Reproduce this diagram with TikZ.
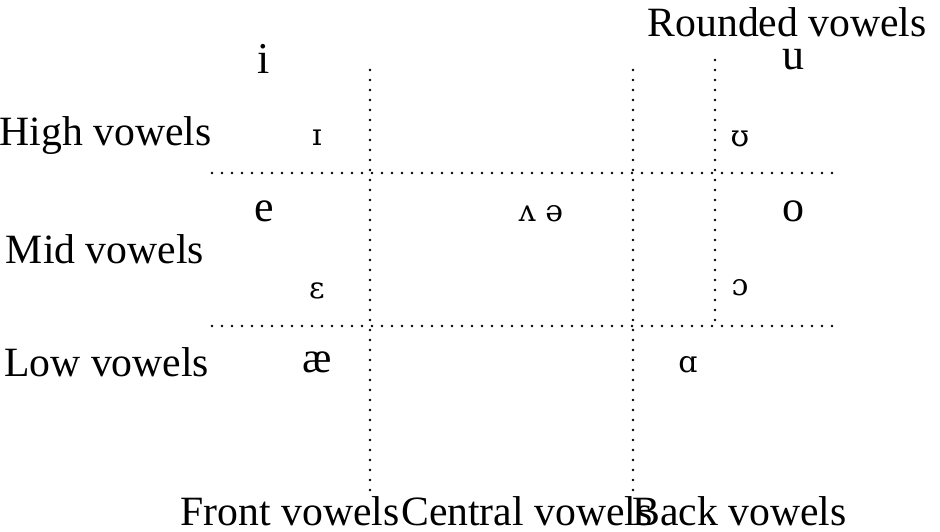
\documentclass[tikz,border=0pt]{standalone}
\usepackage{fontspec}
\setmainfont{Liberation Serif}
\newfontfamily\ipafont{DejaVu Serif}
\begin{document}
\begin{tikzpicture}[x=1pt,y=-1pt,
  lbl/.style={inner sep=0pt,font=\fontsize{41.7}{44}\selectfont},
  vow/.style={inner sep=0pt,anchor=base,font=\fontsize{44}{48}\selectfont},
  ipa/.style={inner sep=0pt,anchor=base,font=\ipafont\fontsize{30}{34}\selectfont},
  hgrid/.style={line width=2.8pt,line cap=round,dash pattern=on 0pt off 10pt},
  vgrid/.style={line width=2.8pt,line cap=round,dash pattern=on 0pt off 10pt}]
\useasboundingbox (0,0) rectangle (940,532);
% grid coordinates
\coordinate (v1t) at (370,70);  \coordinate (v1b) at (370,500);
\coordinate (v2t) at (633,70);  \coordinate (v2b) at (633,500);
\coordinate (v3t) at (715,60);  \coordinate (v3b) at (715,326);
\coordinate (h1l) at (212,173); \coordinate (h1r) at (838,173);
\coordinate (h2l) at (212,326); \coordinate (h2r) at (838,326);
\draw[vgrid] (v1t) -- (v1b);
\draw[vgrid] (v2t) -- (v2b);
\draw[vgrid] (v3t) -- (v3b);
\draw[hgrid] (h1l) -- (h1r);
\draw[hgrid] (h2l) -- (h2r);
% row labels
\node[lbl,anchor=base east] (high) at (212,146) {High vowels};
\node[lbl,anchor=base] (mid) at (105,263) {Mid vowels};
\node[lbl,anchor=base west] (low) at (4,376) {Low vowels};
\node[lbl,anchor=base east] (round) at (927,37) {Rounded vowels};
% column labels
\node[lbl,anchor=base] (front) at (290,525) {Front vowels};
\node[lbl,anchor=base west] (central) at (401,525) {Central vowels};
\node[lbl,anchor=base west] (back) at (632,525) {Back vowels};
% vowels
\node[vow] (i) at (264,74) {i};
\node[ipa] (I) at (317,146) {ɪ};
\node[vow] (u) at (793,70) {u};
\node[ipa] (U) at (740,147) {ʊ};
\node[vow] (e) at (264,222) {e};
\node[ipa] (schwa) at (541,222) {ʌ ə};
\node[vow] (o) at (793,222) {o};
\node[ipa] (eps) at (317,298) {ɛ};
\node[ipa] (oo) at (740,295) {ɔ};
\node[vow] (ae) at (317,372) {æ};
\node[ipa] (aa) at (688,372) {ɑ};
\end{tikzpicture}
\end{document}
